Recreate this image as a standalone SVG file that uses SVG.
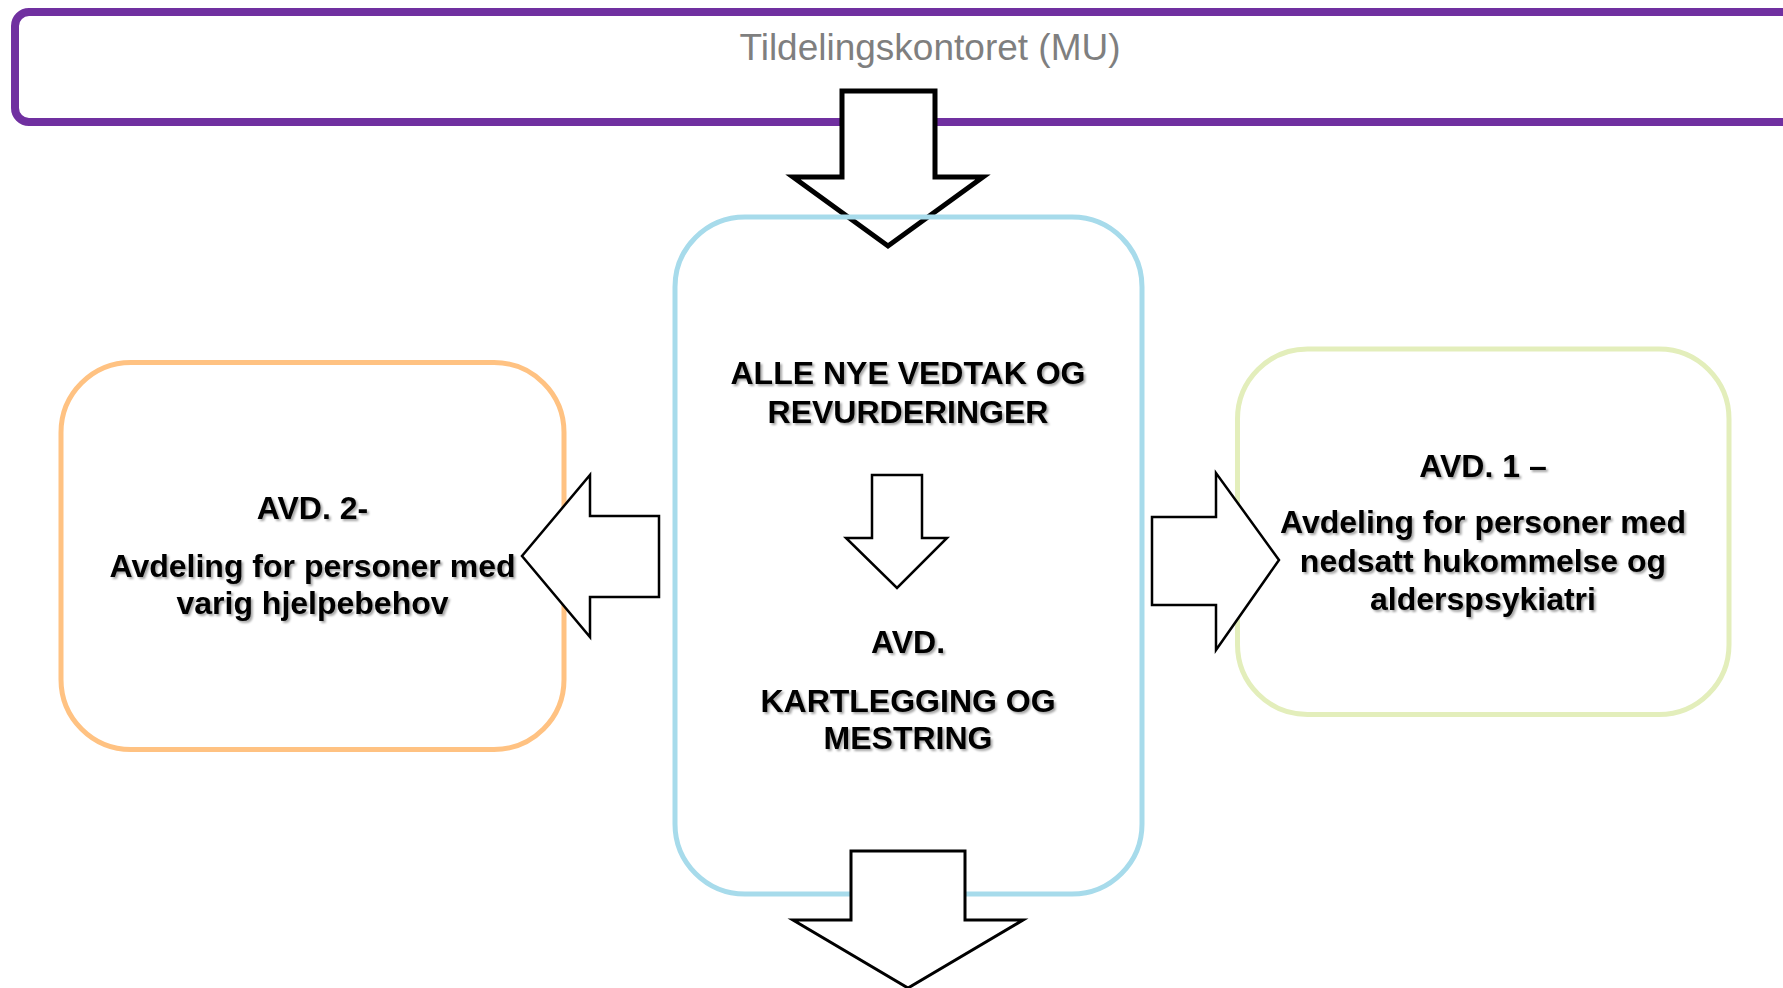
<svg xmlns="http://www.w3.org/2000/svg" width="1783" height="988" viewBox="0 0 1783 988">
<defs>
<filter id="sh" x="-5%" y="-20%" width="110%" height="140%">
<feDropShadow dx="2" dy="2" stdDeviation="1" flood-color="#000" flood-opacity="0.35"/>
</filter>
</defs>
<style>
.box{fill:none;stroke-width:5}
.arrow{fill:#fff;stroke:#000;stroke-linejoin:miter}
.lbl{font-family:"Liberation Sans",Arial,sans-serif;font-weight:bold;font-size:32px;fill:#000;text-anchor:middle;filter:url(#sh)}
.title{font-family:"Liberation Sans",Arial,sans-serif;font-size:37px;fill:#7F7F7F;text-anchor:middle}
</style>
<rect width="1783" height="988" fill="#fff"/>
<g id="tildelingskontoret">
<rect x="15" y="12" width="1800" height="110" rx="14" fill="#fff" stroke="#7030A0" stroke-width="8"/>
<text class="title" x="930" y="60">Tildelingskontoret (MU)</text>
</g>
<g id="connectors-under">
<polygon class="arrow" stroke-width="5" points="842,91 935,91 935,177 983,177 888,246 793,177 842,177"/>
</g>
<g id="avd-kartlegging">
<rect class="box" x="675" y="217" width="467" height="677" rx="70" stroke="#A7DBEB"/>
<text class="lbl" x="908" y="384">ALLE NYE VEDTAK OG</text>
<text class="lbl" x="908" y="423">REVURDERINGER</text>
<text class="lbl" x="908" y="653">AVD.</text>
<text class="lbl" x="908" y="712">KARTLEGGING OG</text>
<text class="lbl" x="908" y="749">MESTRING</text>
</g>
<g id="avd-2">
<rect class="box" x="61" y="362.5" width="503" height="387" rx="70" stroke="#FFC282"/>
<text class="lbl" x="312.5" y="519">AVD. 2-</text>
<text class="lbl" x="312.5" y="577">Avdeling for personer med</text>
<text class="lbl" x="312.5" y="614">varig hjelpebehov</text>
</g>
<g id="avd-1">
<rect class="box" x="1237.5" y="349" width="491.5" height="365.5" rx="70" stroke="#E3EEBB"/>
<text class="lbl" x="1483" y="477">AVD. 1 –</text>
<text class="lbl" x="1483" y="533">Avdeling for personer med</text>
<text class="lbl" x="1483" y="572">nedsatt hukommelse og</text>
<text class="lbl" x="1483" y="610">alderspsykiatri</text>
</g>
<g id="connectors">
<polygon class="arrow" stroke-width="2.5" points="872,475 922,475 922,538 947,538 897,588 846,538 872,538"/>
<polygon class="arrow" stroke-width="3" points="851,851 965,851 965,920 1023,920 908,988 793,920 851,920"/>
<polygon class="arrow" stroke-width="2.5" points="659,516 590,516 590,475 522,556 590,637 590,597 659,597"/>
<polygon class="arrow" stroke-width="2.5" points="1152,517 1216,517 1216,473 1279,560 1216,650 1216,605 1152,605"/>
</g>
</svg>
